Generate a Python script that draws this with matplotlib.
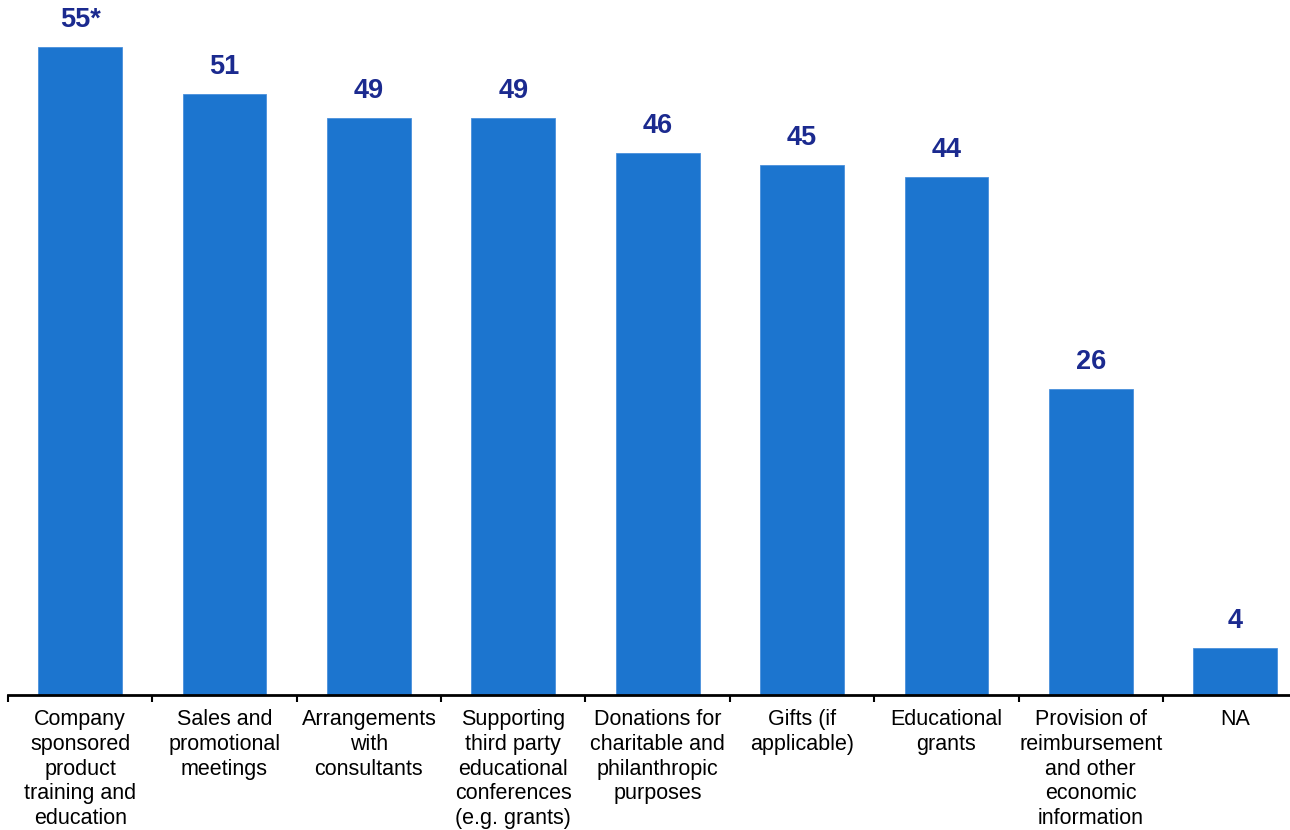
import matplotlib.pyplot as plt
import numpy as np

categories = [
    "Company\nsponsored\nproduct\ntraining and\neducation",
    "Sales and\npromotional\nmeetings",
    "Arrangements\nwith\nconsultants",
    "Supporting\nthird party\neducational\nconferences\n(e.g. grants)",
    "Donations for\ncharitable and\nphilanthropic\npurposes",
    "Gifts (if\napplicable)",
    "Educational\ngrants",
    "Provision of\nreimbursement\nand other\neconomic\ninformation",
    "NA",
]
values = [55, 51, 49, 49, 46, 45, 44, 26, 4]
value_labels = ["55*", "51", "49", "49", "46", "45", "44", "26", "4"]

plt.rcParams['font.family'] = ['Liberation Sans', 'DejaVu Sans']

fig = plt.figure(figsize=(12.9, 8.3), dpi=100)
ax = fig.add_axes([8 / 1290, 135 / 830, 1282 / 1290, 695 / 830])

x = np.arange(len(values))
bars = ax.bar(x, values, width=0.58, color='#1c75cf', edgecolor='#4a90dc', linewidth=0.6)

for b, lab in zip(bars, value_labels):
    ax.annotate(lab, (b.get_x() + b.get_width() / 2, b.get_height()),
                xytext=(0, 10), textcoords='offset points',
                ha='center', va='bottom', fontsize=19.5, fontweight='bold',
                color='#1b2a8f')

ax.set_xticks(x)
ax.set_xticklabels(categories, fontsize=15.5, linespacing=1.24, va='top')
ax.set_xticks(np.arange(-0.5, 8.6, 1), minor=True)
ax.tick_params(axis='x', which='major', length=0, pad=10)
ax.tick_params(axis='x', which='minor', length=5, width=1.5, direction='out')

# limits after the ticks, since set_xticks can widen the view
ax.set_xlim(-0.5, 8.38)
ax.set_ylim(0, 59)

ax.set_yticks([])
for side in ['top', 'right', 'left']:
    ax.spines[side].set_visible(False)
ax.spines['bottom'].set_linewidth(2)

fig.savefig('out.png', dpi=100)
